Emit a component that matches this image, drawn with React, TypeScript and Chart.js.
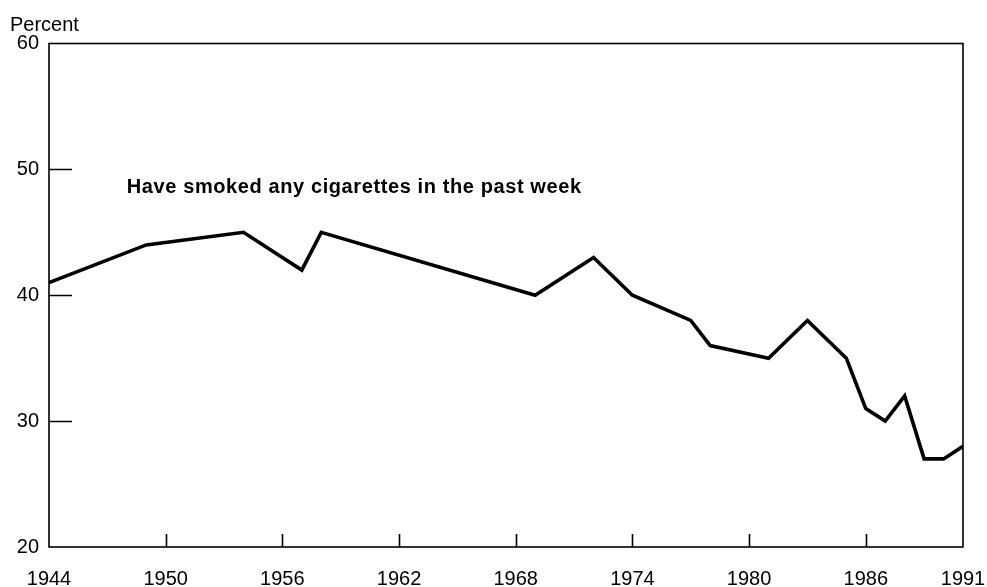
import React, { useEffect, useRef } from "react";
import { Chart, registerables } from "chart.js";

Chart.register(...registerables);

const YEARS = [1944, 1949, 1954, 1957, 1958, 1969, 1972, 1974, 1977, 1978, 1981, 1983, 1985, 1986, 1987, 1988, 1989, 1990, 1991];
const PERCENT = [41, 44, 45, 42, 45, 40, 43, 40, 38, 36, 35, 38, 35, 31, 30, 32, 27, 27, 28];
const X_TICKS = [1944, 1950, 1956, 1962, 1968, 1974, 1980, 1986, 1991];
const Y_TICKS = [20, 30, 40, 50, 60];
const Y_TITLE = "Percent";
const SERIES_LABEL = "Have smoked any cigarettes in the past week";
const LABEL_AT = { x: 1948, y: 48.1 };

const FONT = "'Liberation Sans', Arial, Helvetica, sans-serif";

const framePlugin = {
  id: "frame",
  afterDraw(chart: any) {
    const { ctx, chartArea } = chart;
    const xs = chart.scales.x;
    const ys = chart.scales.y;
    ctx.save();
    ctx.strokeStyle = "#000";
    ctx.lineWidth = 1.6;
    ctx.strokeRect(chartArea.left, chartArea.top, chartArea.right - chartArea.left, chartArea.bottom - chartArea.top);
    ctx.beginPath();
    X_TICKS.slice(1, -1).forEach((v) => {
      const px = Math.round(xs.getPixelForValue(v)) + 0.5;
      ctx.moveTo(px, chartArea.bottom);
      ctx.lineTo(px, chartArea.bottom - 13);
    });
    Y_TICKS.slice(1, -1).forEach((v) => {
      const py = Math.round(ys.getPixelForValue(v)) + 0.5;
      ctx.moveTo(chartArea.left, py);
      ctx.lineTo(chartArea.left + 23, py);
    });
    ctx.stroke();
    ctx.fillStyle = "#000";
    ctx.textAlign = "left";
    ctx.textBaseline = "alphabetic";
    ctx.font = `20px ${FONT}`;
    ctx.fillText(Y_TITLE, 10, 31);
    ctx.font = `bold 20px ${FONT}`;
    try {
      (ctx as any).letterSpacing = "0.6px";
    } catch (e) {}
    ctx.fillText(SERIES_LABEL, xs.getPixelForValue(LABEL_AT.x), ys.getPixelForValue(LABEL_AT.y));
    try {
      (ctx as any).letterSpacing = "0px";
    } catch (e) {}
    ctx.restore();
  },
};

export default function App() {
  const ref = useRef<HTMLCanvasElement>(null);
  useEffect(() => {
    if (!ref.current) return;
    Chart.defaults.font.family = FONT;
    const chart = new Chart(ref.current, {
      type: "line",
      data: {
        datasets: [
          {
            label: SERIES_LABEL,
            data: YEARS.map((y, i) => ({ x: y, y: PERCENT[i] })),
            borderColor: "#000",
            borderWidth: 3.6,
            pointRadius: 0,
            tension: 0,
            fill: false,
            borderJoinStyle: "miter",
          },
        ],
      },
      options: {
        responsive: false,
        animation: false,
        layout: { padding: { top: 43.5, right: 24, left: 0, bottom: 0 } },
        plugins: { legend: { display: false }, tooltip: { enabled: false }, title: { display: false } },
        scales: {
          x: {
            type: "linear",
            min: 1944,
            max: 1991,
            grid: { display: false, drawTicks: false },
            border: { display: false },
            afterBuildTicks: (scale: any) => {
              scale.ticks = X_TICKS.map((v) => ({ value: v }));
            },
            afterFit: (scale: any) => {
              scale.height = 40;
              scale.paddingLeft = 0;
              scale.paddingRight = 0;
            },
            ticks: {
              autoSkip: false,
              maxRotation: 0,
              padding: 20,
              color: "#000",
              font: { size: 20, family: FONT },
              callback: (v: any) => String(v),
            },
          },
          y: {
            min: 20,
            max: 60,
            grid: { display: false, drawTicks: false },
            border: { display: false },
            afterBuildTicks: (scale: any) => {
              scale.ticks = Y_TICKS.map((v) => ({ value: v }));
            },
            afterFit: (scale: any) => {
              scale.width = 49;
              scale.paddingTop = 0;
              scale.paddingBottom = 0;
            },
            ticks: {
              padding: 10,
              color: "#000",
              font: { size: 20, family: FONT },
            },
          },
        },
      },
      plugins: [framePlugin],
    });
    return () => chart.destroy();
  }, []);
  return (
    <div style={{ position: "absolute", left: 0, top: 0, width: 987, height: 587, background: "#fff" }}>
      <canvas ref={ref} width={987} height={587} style={{ width: 987, height: 587 }} />
    </div>
  );
}
